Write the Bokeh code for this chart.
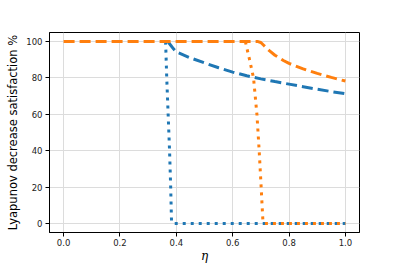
from bokeh.plotting import figure
from bokeh.models import FixedTicker, Range1d
from bokeh.embed import file_html
from bokeh.resources import INLINE

# Data
blue_dash_eta = [0.37, 0.38, 0.39, 0.40, 0.45, 0.50, 0.55, 0.60, 0.65, 0.70, 0.75, 0.80, 0.85, 0.90, 0.95, 1.00]
blue_dash_val = [100.0, 98.0, 96.0, 94.3, 91.0, 88.3, 85.6, 83.2, 81.2, 79.5, 78.0, 76.6, 75.2, 73.8, 72.5, 71.3]

blue_dot_eta = [0.362, 0.366, 0.371, 0.376, 0.380, 0.383, 0.39, 1.00]
blue_dot_val = [100.0, 80.0, 60.0, 40.0, 20.0, 1.0, 0.0, 0.0]

orange_dash_eta = [0.00, 0.69, 0.70, 0.71, 0.72, 0.73, 0.75, 0.78, 0.80, 0.85, 0.90, 0.95, 1.00]
orange_dash_val = [100.0, 100.0, 99.5, 98.0, 96.5, 95.0, 92.5, 89.6, 88.0, 85.0, 82.5, 80.3, 78.3]

orange_dot_eta = [0.645, 0.660, 0.674, 0.686, 0.694, 0.701, 0.707, 0.712, 1.00]
orange_dot_val = [100.0, 90.0, 80.0, 60.0, 40.0, 20.0, 2.0, 0.0, 0.0]

x_ticks = [0.0, 0.2, 0.4, 0.6, 0.8, 1.0]
x_tick_labels = ["0.0", "0.2", "0.4", "0.6", "0.8", "1.0"]
y_ticks = [0, 20, 40, 60, 80, 100]

BLUE = "#1f77b4"
ORANGE = "#ff7f0e"

p = figure(width=399, height=266, output_backend="svg", toolbar_location=None,
           x_range=Range1d(-0.05, 1.05), y_range=Range1d(-5, 105),
           min_border_left=49, min_border_right=40, min_border_top=32, min_border_bottom=34)

p.line(blue_dash_eta, blue_dash_val, line_color=BLUE, line_width=3, line_dash="11 5")
p.line(blue_dot_eta, blue_dot_val, line_color=BLUE, line_width=3, line_dash="3 5")
p.line(orange_dash_eta, orange_dash_val, line_color=ORANGE, line_width=3, line_dash="11 5")
p.line(orange_dot_eta, orange_dot_val, line_color=ORANGE, line_width=3, line_dash="3 5")

p.outline_line_color = "black"
p.outline_line_width = 1
p.background_fill_color = "white"
p.border_fill_color = "white"

p.xgrid.ticker = FixedTicker(ticks=x_ticks)
p.ygrid.ticker = FixedTicker(ticks=y_ticks)
p.grid.grid_line_color = "#dcdcdc"
p.grid.grid_line_width = 1

p.xaxis.ticker = FixedTicker(ticks=x_ticks)
p.xaxis.major_label_overrides = {t: l for t, l in zip(x_ticks, x_tick_labels)}
p.yaxis.ticker = FixedTicker(ticks=y_ticks)

for ax in (p.xaxis, p.yaxis):
    ax.major_label_text_font = "DejaVu Sans"
    ax.major_label_text_font_size = "8.5px"
    ax.major_label_text_color = "#222222"
    ax.axis_label_text_font = "DejaVu Sans"
    ax.axis_label_text_font_style = "normal"
    ax.axis_label_text_color = "black"
    ax.minor_tick_line_color = None
    ax.major_tick_in = 0
    ax.major_tick_out = 4
    ax.major_tick_line_color = "black"
    ax.axis_line_color = "black"

p.xaxis.axis_label = "η"
p.xaxis.axis_label_text_font_style = "italic"
p.xaxis.axis_label_text_font = "DejaVu Serif"
p.xaxis.axis_label_text_font_size = "12px"
p.xaxis.axis_label_standoff = 0
p.xaxis.major_label_standoff = 2

p.yaxis.axis_label = "Lyapunov decrease satisfaction %"
p.yaxis.axis_label_text_font_size = "11.5px"
p.yaxis.axis_label_standoff = 3
p.yaxis.major_label_standoff = 3

open("out.html", "w").write(file_html(p, INLINE))
